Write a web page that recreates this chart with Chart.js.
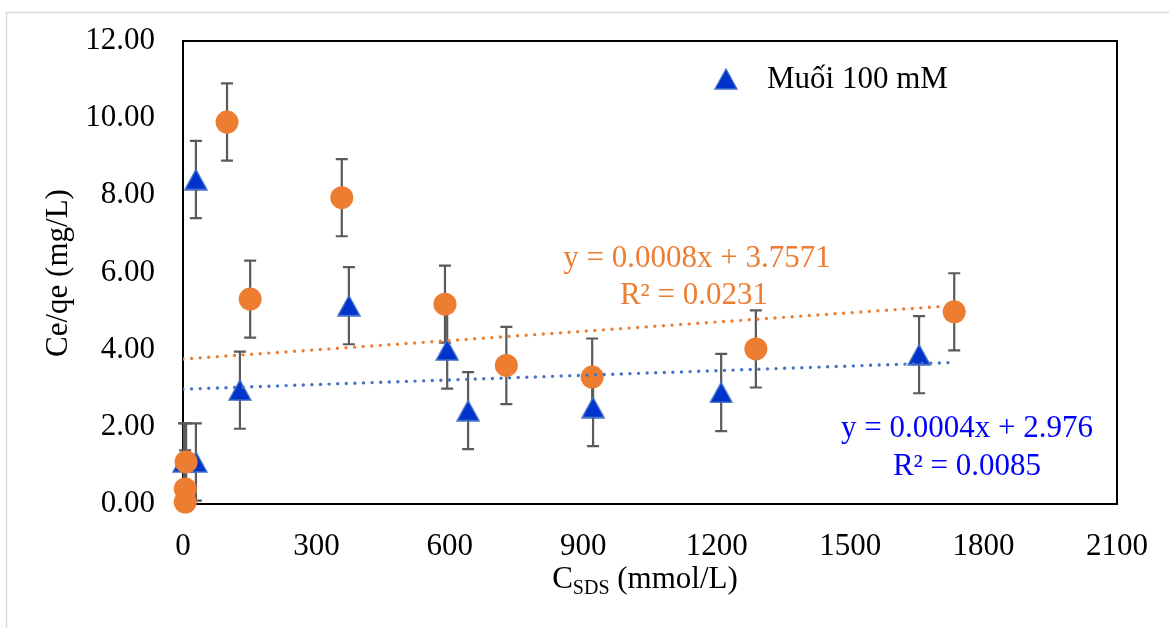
<!DOCTYPE html>
<html>
<head>
<meta charset="utf-8">
<script src="https://cdn.jsdelivr.net/npm/chart.js@4.4.1/dist/chart.umd.min.js"></script>
<style>
  html, body { margin: 0; padding: 0; background: #ffffff; }
  #wrap { width: 1169px; height: 628px; position: relative; }
</style>
</head>
<body>
<div id="wrap"><canvas id="chart" width="1169" height="628"></canvas></div>
<script>
// Series without salt (orange circles)
const orangeX   = [5, 5, 7, 99, 151, 357, 589, 727, 920, 1288, 1734];
const orangeY   = [0.05, 0.39, 1.09, 9.90, 5.31, 7.94, 5.18, 3.59, 3.29, 4.02, 4.98];
const orangeErr = [1, 1, 1, 1, 1, 1, 1, 1, 1, 1, 1];

// Series "Muối 100 mM" (blue triangles)
const blueX   = [2, 29, 29, 128, 373, 594, 641, 922, 1210, 1655];
const blueY   = [1.09, 1.09, 8.41, 2.95, 5.14, 3.99, 2.42, 2.50, 2.89, 3.87];
const blueErr = [1, 1, 1, 1, 1, 1, 1, 1, 1, 1];

// Linear trend lines: [slope, intercept], drawn over [start, end] of x
const orangeFit = [0.0008, 3.7571];
const orangeR2  = "0.0231";
const orangeFitRange = [0, 1734];
const blueFit = [0.0004, 2.976];
const blueR2  = "0.0085";
const blueFitRange = [0, 1722];

// Axis ticks
const xTicks = [0, 300, 600, 900, 1200, 1500, 1800, 2100];
const yTicks = [0, 2, 4, 6, 8, 10, 12];

const legendLabel = "Muối 100 mM";
const yTitle = "Ce/qe (mg/L)";

const FONT = '"Liberation Serif", "Times New Roman", serif';
const ORANGE = '#ED7D31';
const BLUE_FILL = '#0033CC';
const BLUE_EDGE = '#4472C4';
const BLUE_TEXT = '#0000FF';
const ERR = '#5A5A5A';

function zip(xs, ys) { return xs.map((x, i) => ({ x: x, y: ys[i] })); }
function fitLine(fit, range) {
  return range.map(x => ({ x: x, y: fit[0] * x + fit[1] }));
}

// Triangle marker as a small image so it sits centred on its point
function triangleImage(w, h) {
  const c = document.createElement('canvas');
  c.width = w + 2; c.height = h + 2;
  const g = c.getContext('2d');
  g.beginPath();
  g.moveTo(c.width / 2, 1);
  g.lineTo(w + 1, h + 1);
  g.lineTo(1, h + 1);
  g.closePath();
  g.fillStyle = BLUE_FILL;
  g.fill();
  g.lineWidth = 1.3;
  g.strokeStyle = BLUE_EDGE;
  g.stroke();
  return c;
}
const tri = triangleImage(22, 20);

const errorBars = {
  id: 'errorBars',
  beforeDatasetsDraw(chart) {
    const { ctx, chartArea, scales } = chart;
    const xs = scales.x, ys = scales.y;
    // plot-area frame
    ctx.save();
    ctx.strokeStyle = '#000000';
    ctx.lineWidth = 2;
    ctx.strokeRect(chartArea.left, chartArea.top, chartArea.right - chartArea.left, chartArea.bottom - chartArea.top);
    ctx.restore();

    ctx.save();
    ctx.beginPath();
    ctx.rect(chartArea.left - 20, chartArea.top, chartArea.right - chartArea.left + 40, chartArea.bottom - chartArea.top);
    ctx.clip();
    ctx.strokeStyle = ERR;
    ctx.lineWidth = 2.2;
    const sets = [[blueX, blueY, blueErr], [orangeX, orangeY, orangeErr]];
    sets.forEach(([X, Y, E]) => {
      X.forEach((xv, i) => {
        const px = xs.getPixelForValue(xv);
        const top = ys.getPixelForValue(Y[i] + E[i]);
        const bot = ys.getPixelForValue(Y[i] - E[i]);
        ctx.beginPath();
        ctx.moveTo(px, top); ctx.lineTo(px, bot);
        ctx.moveTo(px - 6, top); ctx.lineTo(px + 6, top);
        ctx.moveTo(px - 6, bot); ctx.lineTo(px + 6, bot);
        ctx.stroke();
      });
    });
    ctx.restore();
  }
};

function fmtEq(fit) {
  return 'y = ' + fit[0] + 'x + ' + fit[1];
}

const annotations = {
  id: 'annotations',
  afterDraw(chart) {
    const { ctx } = chart;
    ctx.save();
    // outer chart frame
    ctx.strokeStyle = '#D9D9D9';
    ctx.lineWidth = 1.5;
    ctx.beginPath();
    ctx.moveTo(6.5, 628); ctx.lineTo(6.5, 12.5); ctx.lineTo(1169, 12.5);
    ctx.stroke();

    ctx.font = '31px ' + FONT;
    ctx.textBaseline = 'alphabetic';

    // trend equations
    ctx.fillStyle = ORANGE;
    ctx.textAlign = 'center';
    ctx.fillText(fmtEq(orangeFit), 697, 267);
    ctx.fillText('R² = ' + orangeR2, 694, 304);
    ctx.fillStyle = BLUE_TEXT;
    ctx.fillText(fmtEq(blueFit), 967, 437);
    ctx.fillText('R² = ' + blueR2, 967, 475);

    // legend
    ctx.drawImage(tri, 726 - tri.width / 2, 79 - tri.height / 2);
    ctx.fillStyle = '#000000';
    ctx.textAlign = 'left';
    ctx.fillText(legendLabel, 767, 88);

    // x-axis title with subscript
    const big = '31px ' + FONT, small = '20px ' + FONT;
    ctx.font = big; const wC = ctx.measureText('C').width;
    ctx.font = small; const wS = ctx.measureText('SDS').width;
    ctx.font = big; const wR = ctx.measureText(' (mmol/L)').width;
    let x0 = 645 - (wC + wS + wR) / 2;
    const base = 588;
    ctx.font = big; ctx.fillText('C', x0, base); x0 += wC;
    ctx.font = small; ctx.fillText('SDS', x0, base + 6); x0 += wS;
    ctx.font = big; ctx.fillText(' (mmol/L)', x0, base);

    // y-axis title
    ctx.translate(67, 273);
    ctx.rotate(-Math.PI / 2);
    ctx.textAlign = 'center';
    ctx.fillText(yTitle, 0, 0);
    ctx.restore();
  }
};

new Chart(document.getElementById('chart'), {
  type: 'scatter',
  data: {
    datasets: [
      {
        label: 'y = ' + orangeFit.join(),
        type: 'line',
        data: fitLine(orangeFit, orangeFitRange),
        borderColor: ORANGE,
        borderWidth: 3.4,
        borderDash: [0, 8.6],
        borderCapStyle: 'round',
        pointRadius: 0,
        fill: false,
        order: 0
      },
      {
        label: 'y = ' + blueFit.join(),
        type: 'line',
        data: fitLine(blueFit, blueFitRange),
        borderColor: BLUE_EDGE,
        borderWidth: 3.4,
        borderDash: [0, 8.6],
        borderCapStyle: 'round',
        pointRadius: 0,
        fill: false,
        order: 1
      },
      {
        label: 'Không muối',
        data: zip(orangeX, orangeY),
        pointStyle: 'circle',
        pointRadius: 11.5,
        pointBorderWidth: 0,
        backgroundColor: ORANGE,
        borderColor: ORANGE,
        clip: false,
        order: 2
      },
      {
        label: legendLabel,
        data: zip(blueX, blueY),
        pointStyle: tri,
        pointRadius: 11,
        backgroundColor: BLUE_FILL,
        borderColor: BLUE_EDGE,
        clip: false,
        order: 3
      }
    ]
  },
  options: {
    responsive: false,
    animation: false,
    events: [],
    layout: { padding: { left: 0, top: 41, right: 52, bottom: 0 } },
    plugins: {
      legend: { display: false },
      title: { display: false },
      tooltip: { enabled: false }
    },
    scales: {
      x: {
        type: 'linear',
        min: xTicks[0],
        max: xTicks[xTicks.length - 1],
        afterBuildTicks(scale) { scale.ticks = xTicks.map(v => ({ value: v })); },
        afterFit(scale) {
          scale.height = 124;
          scale.paddingLeft = 0; scale.paddingRight = 0;
        },
        grid: { display: false, drawTicks: false },
        border: { display: false },
        ticks: {
          padding: 24,
          color: '#000000',
          font: { family: FONT, size: 31 },
          maxRotation: 0,
          callback: v => String(v)
        }
      },
      y: {
        type: 'linear',
        min: yTicks[0],
        max: yTicks[yTicks.length - 1],
        afterBuildTicks(scale) { scale.ticks = yTicks.map(v => ({ value: v })); },
        afterFit(scale) {
          scale.width = 183;
          scale.paddingTop = 0; scale.paddingBottom = 0;
        },
        grid: { display: false, drawTicks: false },
        border: { display: false },
        ticks: {
          padding: 28,
          color: '#000000',
          font: { family: FONT, size: 31 },
          callback: v => Number(v).toFixed(2)
        }
      }
    }
  },
  plugins: [errorBars, annotations]
});
</script>
</body>
</html>
